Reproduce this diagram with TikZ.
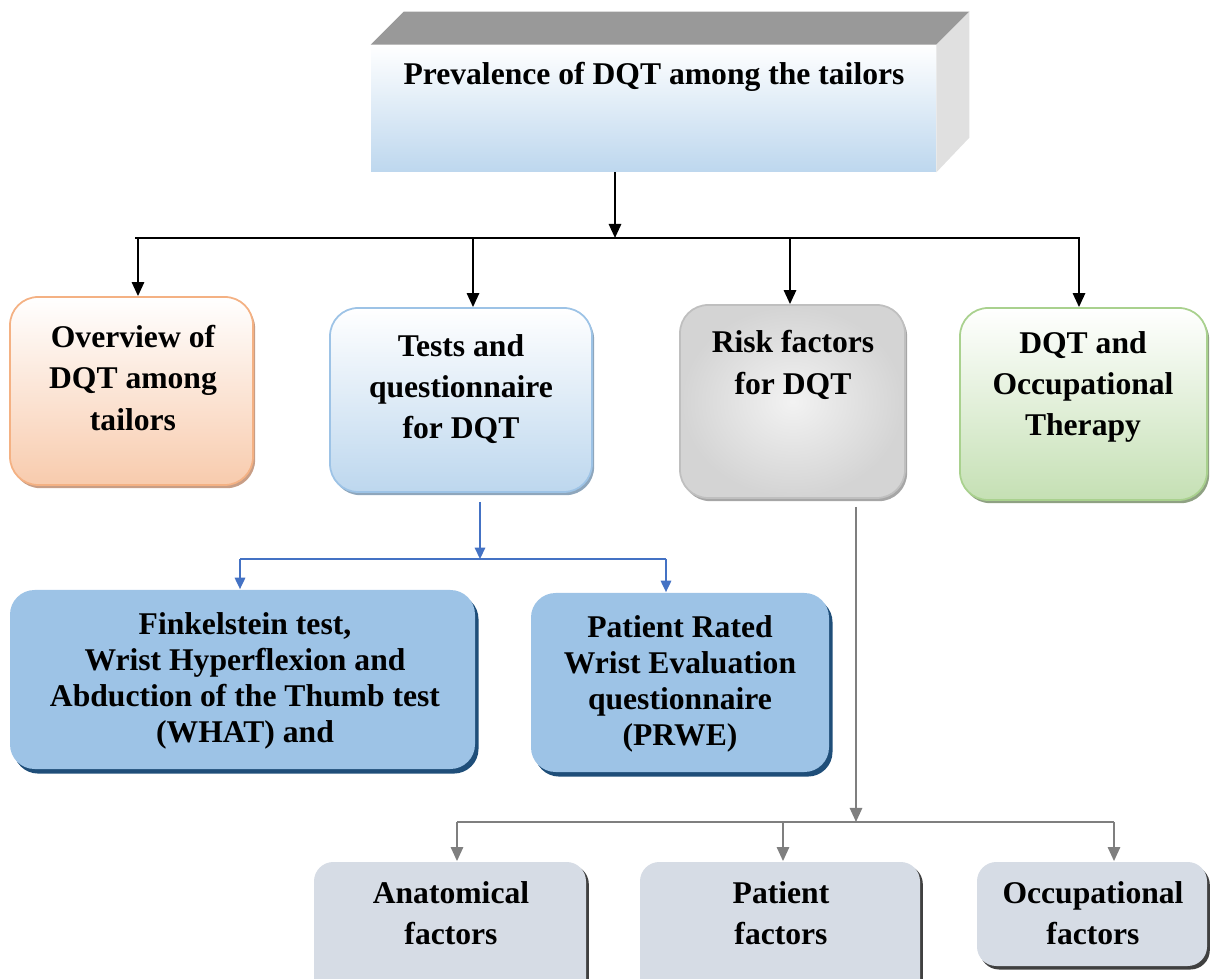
\documentclass[tikz,border=0pt]{standalone}
\usepackage{fontspec}
\setmainfont{Liberation Serif}
\usetikzlibrary{arrows.meta,shadows,fit,calc}

\definecolor{peach}{HTML}{F8CBAD}
\definecolor{peachline}{HTML}{F4B183}
\definecolor{peachshade}{HTML}{C89E86}
\definecolor{skyfill}{HTML}{BDD7EE}
\definecolor{skyline}{HTML}{9DC3E6}
\definecolor{skyshade}{HTML}{8EA6BC}
\definecolor{mintfill}{HTML}{C5E0B4}
\definecolor{mintline}{HTML}{A9D18E}
\definecolor{mintshade}{HTML}{8FA183}
\definecolor{steelfill}{HTML}{9DC3E6}
\definecolor{navyshade}{HTML}{1F4E79}
\definecolor{linkblue}{HTML}{4472C4}
\definecolor{slatefill}{HTML}{D6DCE5}
\definecolor{slateshade}{HTML}{404040}
\definecolor{linkgray}{HTML}{7F7F7F}

\begin{document}
\begin{tikzpicture}[x=0.02cm, y=-0.02cm,
    box/.style={inner sep=0pt, line width=1pt},
    lbl/.style={align=center, font=\bfseries\fontsize{18}{23.5}\selectfont},
    lbltight/.style={align=center, font=\bfseries\fontsize{18}{20.5}\selectfont},
    arr/.style={line width=1.2pt, -{Triangle[length=8pt,width=7pt]}},
    arrblue/.style={line width=0.9pt, linkblue, -{Triangle[length=6.5pt,width=6pt]}},
    arrgray/.style={line width=1.1pt, linkgray, -{Triangle[length=8pt,width=7pt]}}]
        \path[use as bounding box, clip] (0,0) rectangle (1211,979);

        % Top block (3D)
        \node[fit={(371,45)(936,172)}, inner sep=0pt, top color=white, middle color=skyfill!45, bottom color=skyfill] (prev) {};
        \fill[black!40] (prev.north west) -- ++(33,-33) -- ($(prev.north east)+(33,-33)$) -- (prev.north east) -- cycle;
        \fill[black!12] (prev.north east) -- ++(33,-33) -- ++(0,126) -- (prev.south east) -- cycle;
        \node[lbl] (tprev) at (654,77) {Prevalence of DQT among the tailors};

        % Second row
        \node[box, rounded corners=16pt, fit={(10,297)(253,485)}, draw=peachline, top color=white, bottom color=peach,
              drop shadow={shadow xshift=1.2pt, shadow yshift=-1.8pt, fill=peachshade, opacity=1}] (ov) {};
        \node[box, rounded corners=16pt, fit={(330,308)(592,492)}, draw=skyline, top color=white, bottom color=skyfill,
              drop shadow={shadow xshift=1.2pt, shadow yshift=-1.8pt, fill=skyshade, opacity=1}] (te) {};
        \node[box, rounded corners=16pt, fit={(680,305)(905,498)}, draw=black!25, inner color=black!5, outer color=black!17,
              drop shadow={shadow xshift=1.2pt, shadow yshift=-1.8pt, fill=black!35, opacity=1}] (ri) {};
        \node[box, rounded corners=16pt, fit={(960,308)(1207,500)}, draw=mintline, top color=white, bottom color=mintfill,
              drop shadow={shadow xshift=1.2pt, shadow yshift=-1.8pt, fill=mintshade, opacity=1}] (oc) {};

        \node[lbl] (tov) at (133,378) {Overview of\\DQT among\\tailors};
        \node[lbl] (tte) at (461,389) {Tests and\\questionnaire\\for DQT};
        \node[lbl] (tri) at (793,365) {Risk factors\\for DQT};
        \node[lbl] (toc) at (1083,387) {DQT and\\Occupational\\Therapy};

        % Top connectors
        \coordinate (tbus) at (615,238);
        \coordinate (busl) at (135,238);
        \coordinate (busr) at (1080,238);
        \coordinate (dov) at (138,238);
        \coordinate (dte) at (473,238);
        \coordinate (dri) at (790,238);
        \coordinate (doc) at (1079,238);
        \draw[arr] (tbus |- prev.south) -- (tbus);
        \draw[line width=1.2pt] (busl) -- (busr);
        \draw[arr] (dov) -- (dov |- ov.north);
        \draw[arr] (dte) -- (dte |- te.north);
        \draw[arr] (dri) -- (dri |- ri.north);
        \draw[arr] (doc) -- (doc |- oc.north);

        % Tests branch
        \node[box, rounded corners=14pt, fit={(10,590)(475,769)}, fill=steelfill,
              drop shadow={shadow xshift=2pt, shadow yshift=-2.6pt, fill=navyshade, opacity=1}] (fi) {};
        \node[box, rounded corners=14pt, fit={(531,593)(829,772)}, fill=steelfill,
              drop shadow={shadow xshift=2pt, shadow yshift=-2.6pt, fill=navyshade, opacity=1}] (pr) {};
        \node[lbltight] (tfi) at (245,681) {Finkelstein test,\\Wrist Hyperflexion and\\Abduction of the Thumb test\\(WHAT) and};
        \node[lbltight] (tpr) at (680,684) {Patient Rated\\Wrist Evaluation\\questionnaire\\(PRWE)};

        \coordinate (bt) at (480,502);
        \coordinate (bl) at (240,559);
        \coordinate (br) at (666,559);
        \draw[arrblue] (bt) -- (bt |- bl);
        \draw[line width=0.9pt, linkblue] (bl) -- (br);
        \draw[arrblue] (bl) -- (bl |- fi.north);
        \draw[arrblue] (br) -- (br |- pr.north);

        % Risk branch
        \node[box, rounded corners=11pt, fit={(314,862)(586,1000)}, fill=slatefill,
              drop shadow={shadow xshift=1.6pt, shadow yshift=-1.6pt, fill=slateshade, opacity=1}] (an) {};
        \node[box, rounded corners=11pt, fit={(640,862)(920,1000)}, fill=slatefill,
              drop shadow={shadow xshift=1.6pt, shadow yshift=-1.6pt, fill=slateshade, opacity=1}] (pa) {};
        \node[box, rounded corners=11pt, fit={(977,862)(1207,966)}, fill=slatefill,
              drop shadow={shadow xshift=1.6pt, shadow yshift=-2pt, fill=slateshade, opacity=1}] (of) {};
        \node[lbl] (tan) at (451,913) {Anatomical\\factors};
        \node[lbl] (tpa) at (781,913) {Patient\\factors};
        \node[lbl] (tof) at (1093,913) {Occupational\\factors};

        \coordinate (gt) at (856,507);
        \coordinate (gl) at (457,822);
        \coordinate (gm) at (783,822);
        \coordinate (gr) at (1114,822);
        \draw[arrgray] (gt) -- (gt |- gl);
        \draw[line width=1.1pt, linkgray] (gl) -- (gr);
        \draw[arrgray] (gl) -- (gl |- an.north);
        \draw[arrgray] (gm) -- (gm |- pa.north);
        \draw[arrgray] (gr) -- (gr |- of.north);

    \end{tikzpicture}
\end{document}
